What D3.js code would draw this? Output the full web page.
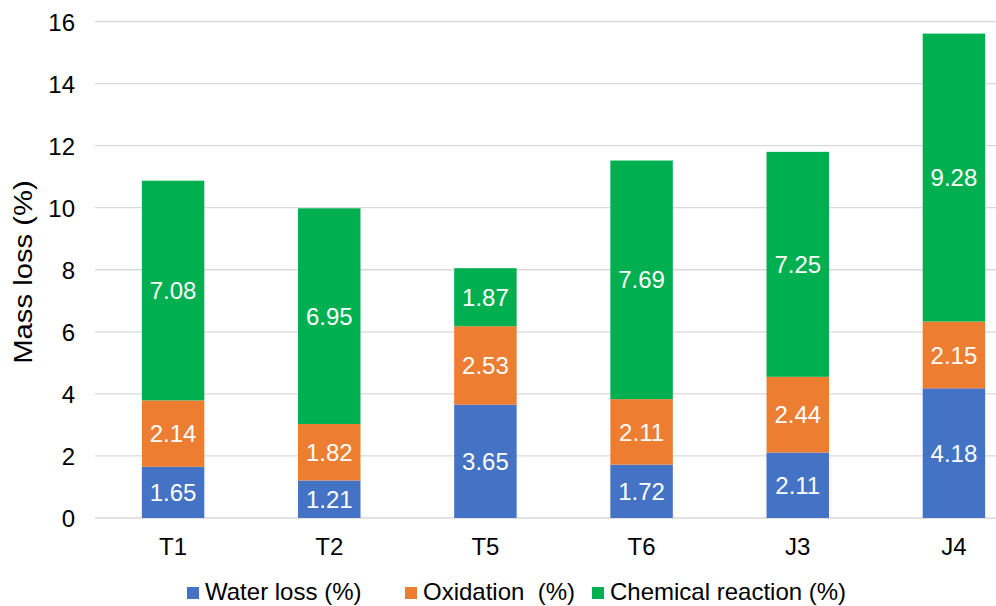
<!DOCTYPE html>
<html>
<head>
<meta charset="utf-8">
<script src="https://cdnjs.cloudflare.com/ajax/libs/d3/7.8.5/d3.min.js"></script>
<style>
  body { margin: 0; background: #fff; }
  svg { display: block; font-family: "Liberation Sans", Arial, sans-serif; }
</style>
</head>
<body>
<div id="chart"></div>
<script>
var categories = ['T1', 'T2', 'T5', 'T6', 'J3', 'J4'];
var seriesNames = ['Water loss (%)', 'Oxidation  (%)', 'Chemical reaction (%)'];
var waterLoss = [1.65, 1.21, 3.65, 1.72, 2.11, 4.18];
var oxidation = [2.14, 1.82, 2.53, 2.11, 2.44, 2.15];
var chemical  = [7.08, 6.95, 1.87, 7.69, 7.25, 9.28];
var yTicks = [0, 2, 4, 6, 8, 10, 12, 14, 16];
var colors = ['#4472C4', '#ED7D31', '#00B050'];

var width = 996, height = 606;
var fontSize = 24;

var svg = d3.select('#chart').append('svg')
  .attr('width', width)
  .attr('height', height);

// build rows for the stack
var rows = categories.map(function(c, i) {
  return {cat: c, s0: waterLoss[i], s1: oxidation[i], s2: chemical[i]};
});
var stack = d3.stack().keys(['s0', 's1', 's2']);
var layers = stack(rows);

var x = d3.scaleBand()
  .domain(categories)
  .range([95, 1032])
  .paddingInner(0.6)
  .paddingOuter(0.3);

var y = d3.scaleLinear()
  .domain([0, 16])
  .range([518, 21.5]);

// gridlines
svg.append('g')
  .selectAll('line')
  .data(yTicks)
  .enter().append('line')
  .attr('x1', 95)
  .attr('x2', width)
  .attr('y1', function(d) { return y(d); })
  .attr('y2', function(d) { return y(d); })
  .attr('stroke', '#D9D9D9')
  .attr('stroke-width', 1.3);

// y tick labels
var yAxis = svg.append('g')
  .attr('transform', 'translate(75,0)')
  .call(d3.axisLeft(y).tickValues(yTicks).tickSize(0).tickPadding(0));
yAxis.select('.domain').remove();
yAxis.selectAll('text')
  .attr('font-size', fontSize)
  .attr('font-family', '"Liberation Sans", Arial, sans-serif')
  .attr('dy', '0.36em')
  .attr('fill', '#000');

// bars
var layer = svg.selectAll('.layer')
  .data(layers)
  .enter().append('g')
  .attr('class', 'layer')
  .attr('fill', function(d, i) { return colors[i]; });

layer.selectAll('rect')
  .data(function(d) { return d; })
  .enter().append('rect')
  .attr('x', function(d) { return x(d.data.cat); })
  .attr('width', x.bandwidth())
  .attr('y', function(d) { return y(d[1]); })
  .attr('height', function(d) { return y(d[0]) - y(d[1]); });

// value labels
layer.selectAll('text')
  .data(function(d) { return d.map(function(p) { p.key = d.key; return p; }); })
  .enter().append('text')
  .attr('x', function(d) { return x(d.data.cat) + x.bandwidth() / 2; })
  .attr('y', function(d) { return (y(d[0]) + y(d[1])) / 2; })
  .attr('dy', '0.36em')
  .attr('text-anchor', 'middle')
  .attr('font-size', fontSize)
  .attr('fill', '#fff')
  .text(function(d) { return d.data[d.key].toFixed(2); });

// x axis
var xAxis = svg.append('g')
  .attr('transform', 'translate(0,518)')
  .call(d3.axisBottom(x).tickSize(0).tickPadding(20));
xAxis.select('.domain').remove();
xAxis.selectAll('text')
  .attr('font-size', fontSize)
  .attr('font-family', '"Liberation Sans", Arial, sans-serif')
  .attr('fill', '#000');

// y axis title (glyphs look stretched along the text in the original)
svg.append('text')
  .attr('transform', 'translate(32,272) rotate(-90) scale(1.17,1)')
  .attr('text-anchor', 'middle')
  .attr('font-size', 25)
  .attr('fill', '#000')
  .text('Mass loss (%)');

// legend
var legendX = [187, 405, 592];
var legend = svg.selectAll('.legend')
  .data(seriesNames)
  .enter().append('g')
  .attr('class', 'legend')
  .attr('transform', function(d, i) { return 'translate(' + legendX[i] + ',587)'; });

legend.append('rect')
  .attr('width', 12)
  .attr('height', 12)
  .attr('fill', function(d, i) { return colors[i]; });

legend.append('text')
  .attr('x', 18)
  .attr('y', 13)
  .attr('font-size', fontSize)
  .attr('fill', '#000')
  .style('white-space', 'pre')
  .text(function(d) { return d; });
</script>
</body>
</html>
